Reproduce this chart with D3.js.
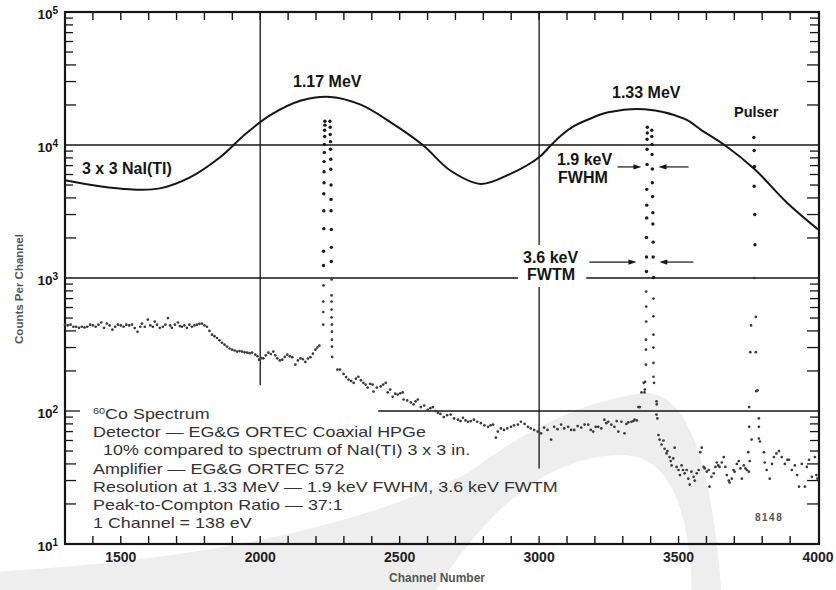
<!DOCTYPE html>
<html><head><meta charset="utf-8">
<script src="https://cdn.jsdelivr.net/npm/d3@7"></script>
<style>body{margin:0;background:#fff}svg{display:block}</style>
</head><body>
<svg id="c" width="836" height="590"></svg>
<script>
// ---- data (channel, counts per channel) ----
const naiCurve = [[1300,5425],[1424,4890],[1532,4640],[1640,4720],[1748,5710],[1856,8090],[1946,12050],[2036,16750],[2144,21500],[2252,23000],[2360,20100],[2468,14800],[2583,10000],[2683,6400],[2791,5100],[2899,6100],[3000,8100],[3043,10000],[3079,11800],[3126,13900],[3187,15900],[3248,17600],[3378,18600],[3522,15700],[3583,12900],[3665,10000],[3773,6570],[3888,3700],[4000,2320]];

const continuumLow = [[1300,446],[1310,440],[1320,446],[1330,430],[1340,430],[1350,422],[1360,430],[1370,425],[1380,430],[1390,446],[1400,440],[1410,430],[1420,446],[1430,463],[1440,422],[1450,454],[1460,440],[1470,409],[1480,430],[1490,446],[1500,440],[1510,430],[1520,446],[1530,440],[1540,446],[1550,420],[1560,394],[1570,430],[1576,454],[1586,430],[1597,487],[1606,440],[1615,430],[1622,470],[1630,446],[1640,422],[1651,430],[1660,446],[1669,500],[1677,440],[1683,422],[1694,446],[1705,463],[1712,435],[1719,430],[1728,440],[1737,422],[1746,446],[1755,430],[1764,440],[1773,446],[1782,452],[1791,454],[1800,440],[1809,430],
[1818,400],[1827,375],[1836,365],[1845,354],[1854,340],[1863,326],[1872,315],[1881,305],[1890,295],[1899,289],[1908,285],[1917,280],[1926,282],[1935,280],[1944,276],[1953,275],[1962,272],[1971,275],[1982,265],[1990,258],[1996,243],[2004,250],[2011,249],[2020,262],[2029,275],[2038,268],[2047,280],[2054,262],[2061,249],[2070,240],[2079,243],[2088,255],[2097,265],[2106,258],[2115,254],[2126,223],[2135,240],[2144,249],[2153,245],[2162,234],[2171,248],[2180,254],[2189,270],[2198,289],[2205,300],[2212,310]];

const peak117 = [[2232,15100],[2232,14100],[2231,12900],[2231,11600],[2230,10100],[2230,8800],[2229,7500],[2229,6300],[2229,5200],[2228,4300],[2228,3200],[2228,2350],[2227,1590],[2227,1240],[2227,880],[2226,665],[2226,555],[2226,446],
[2250,15100],[2251,13600],[2251,12000],[2252,10600],[2252,9290],[2253,7810],[2253,6570],[2254,5000],[2254,3900],[2254,3200],[2255,2320],[2255,1700],[2255,1330],[2256,975],[2256,740],[2256,665],[2256,579],[2256,505],[2257,446],[2257,395],[2257,344],[2257,305],[2258,255]];

const continuumMid = [[2277,205],[2286,205],[2299,190],[2308,180],[2317,172],[2326,168],[2335,163],[2343,175],[2352,181],[2361,170],[2370,163],[2378,158],[2385,150],[2394,160],[2403,158],[2406,140],[2418,150],[2432,153],[2441,158],[2450,163],[2457,138],[2466,145],[2475,128],[2484,135],[2493,133],[2502,136],[2511,138],[2514,122],[2527,120],[2540,116],[2550,112],[2557,118],[2565,122],[2576,107],[2588,110],[2601,102],[2610,105],[2619,107],[2628,100],[2637,97],[2646,95],[2658,90],[2670,93],[2683,94],[2695,88],[2709,86],[2718,84],[2727,89],[2736,85],[2745,83],[2755,84],[2766,86],[2778,83],[2791,81],[2804,78],[2817,76],[2826,78],[2835,79],[2845,63],[2852,70],[2863,74],[2874,72],[2886,74],[2899,76],[2910,78],[2924,79],[2935,83],[2948,80],[2960,76],[2970,74],[2982,72],[2995,70],[3007,68],[3018,75],[3030,72],[3043,61],[3054,76],[3066,73],[3079,79],[3090,74],[3104,76],[3115,72],[3126,72],[3138,77],[3151,75],[3163,79],[3176,79],[3185,72],[3194,70],[3203,76],[3212,76],[3223,74],[3234,86],[3241,81],[3248,83],[3259,79],[3270,76],[3278,84],[3284,70],[3295,83],[3306,68],[3313,80],[3320,82],[3331,83],[3338,84],[3342,86],[3350,85],[3356,107],[3361,107],[3367,138],[3375,163]];

const peak133 = [[3388,13600],[3388,12300],[3387,11050],[3387,9290],[3387,7150],[3386,4640],[3386,3530],[3386,2830],[3385,2020],[3385,1440],[3385,1120],[3384,790],[3384,610],[3384,470],[3383,344],[3383,289],[3383,223],[3380,166],[3379,145],[3378,138],
[3404,12900],[3404,11600],[3405,10100],[3405,8500],[3406,6600],[3406,5200],[3407,4100],[3408,3100],[3408,2550],[3409,1860],[3409,1440],[3410,1010],[3410,700],[3410,515],[3410,375],[3410,300],[3410,230],[3410,181],[3412,163],[3421,118],[3422,112],[3421,94],[3424,88]];

const continuumHigh = [[3428,66],[3432,61],[3439,56],[3446,60],[3450,52],[3457,48],[3460,50],[3468,45],[3472,42],[3475,39],[3481,44],[3486,53],[3493,38],[3500,36],[3505,33],[3511,39],[3516,36],[3522,34],[3529,36],[3535,31],[3540,28],[3546,35],[3554,32],[3558,30],[3565,34],[3572,36],[3578,49],[3583,53],[3590,38],[3594,37],[3601,35],[3608,36],[3611,27],[3618,32],[3626,34],[3632,38],[3637,41],[3642,39],[3647,38],[3655,41],[3662,45],[3668,38],[3673,33],[3680,30],[3683,29],[3691,31],[3697,36],[3701,35],[3709,40],[3716,42],[3722,37],[3727,31],[3734,39],[3740,37],[3745,36],
[3806,49],[3809,41],[3816,36],[3827,31],[3835,40],[3842,45],[3851,48],[3860,50],[3870,45],[3881,40],[3890,43],[3896,43],[3906,36],[3917,39],[3925,33],[3932,27],[3942,40],[3953,27],[3960,38],[3968,43],[3978,32],[3989,45],[3994,33],[3998,31]];

const pulser = [[3770,11400],[3771,9100],[3772,6900],[3771,4900],[3773,3000],[3774,1780],[3772,1000],[3777,510],[3760,440],[3757,277],[3777,277],[3783,143],[3779,141],[3753,107],[3788,88],[3753,76],[3788,76],[3788,62],[3792,59],[3762,61],[3750,49],[3755,42],[3752,35]];

const xTickLabels = [1500, 2000, 2500, 3000, 3500, 4000];
const yDecades = [10, 100, 1000, 10000, 100000];
const specLines = ["Co Spectrum", "Detector \u2014 EG&G ORTEC Coaxial HPGe", "10% compared to spectrum of NaI(TI) 3 x 3 in.", "Amplifier \u2014 EG&G ORTEC 572", "Resolution at 1.33 MeV \u2014 1.9 keV FWHM, 3.6 keV FWTM", "Peak-to-Compton Ratio \u2014 37:1", "1 Channel = 138 eV"];
// FWHM / FWTM markers: level (counts), arrows [tail, tip] in channels
const fwhm = {level: 6840, arrows: [[3281, 3367], [3536, 3428]]};
const fwtm = {level: 1318, arrows: [[3180, 3349], [3553, 3431]]};

// ---- drawing ----
const svg = d3.select('#c');
const x = d3.scaleLinear().domain([1300, 4000]).range([65, 818]);
const y = d3.scaleLog().domain([10, 1e5]).range([544, 12]);
const FONT = "'Liberation Sans', Arial, Helvetica, sans-serif";
const ink = '#151515';

// watermark swoosh
svg.append('path')
  .attr('d', 'M -10,572 Q 300,556 470,472 Q 560,403 645,393 Q 708,392 722,600 L 692,600 Q 690,458 625,455 Q 520,452 430,600 L -10,600 Z')
  .attr('fill', '#eeeeee');

const g = svg.append('g');
function seg(x1, y1, x2, y2, w) {
  g.append('line').attr('x1', x1).attr('y1', y1).attr('x2', x2).attr('y2', y2)
    .attr('stroke', ink).attr('stroke-width', w || 1.3);
}
// grid lines
seg(x(1300), y(1e4), x(4000), y(1e4));
seg(x(1300), y(1e3), x(2924), y(1e3));
seg(x(3169), y(1e3), x(4000), y(1e3));
seg(x(2423), y(1e2), x(4000), y(1e2));
seg(x(2000), y(1e5), x(2000), y(157));
seg(x(3000), y(1e5), x(3000), y(1770));
seg(x(3000), y(855), x(3000), y(37));

// frame
g.append('rect').attr('x', x(1300)).attr('y', y(1e5)).attr('width', x(4000) - x(1300) + 1).attr('height', y(10) - y(1e5))
  .attr('fill', 'none').attr('stroke', ink).attr('stroke-width', 2.2);

// x ticks (every 100 channels) top and bottom
d3.range(1400, 4000, 100).forEach(c => {
  seg(x(c), y(10), x(c), y(10) - 8, 1.4);
  seg(x(c), y(1e5), x(c), y(1e5) + 8, 1.4);
});
// y minor ticks, both sides
[10, 100, 1000, 10000].forEach(d => {
  for (let k = 2; k <= 9; k++) {
    const v = d * k, len = k <= 4 ? 11 : 8;
    seg(x(1300), y(v), x(1300) + len, y(v), 1.3);
    seg(x(4000), y(v), x(4000) - len, y(v), 1.3);
  }
});
seg(x(1300), y(100), x(1300) + 15, y(100), 1.3);

// y labels
yDecades.forEach((d, i) => {
  const t = svg.append('text').attr('x', 58).attr('y', y(d) + 7).attr('text-anchor', 'end')
    .attr('font-family', FONT).attr('font-weight', 'bold').attr('font-size', 13.5).attr('fill', ink);
  t.append('tspan').text('10');
  t.append('tspan').attr('font-size', 10).attr('dy', -5).text(String(Math.round(Math.log10(d))));
});
// x labels
xTickLabels.forEach(v => {
  svg.append('text').attr('x', x(v)).attr('y', 562).attr('text-anchor', 'middle')
    .attr('font-family', FONT).attr('font-weight', 'bold').attr('font-size', 14).attr('fill', '#222').text(v);
});
svg.append('text').attr('x', 437).attr('y', 582).attr('text-anchor', 'middle')
  .attr('font-family', FONT).attr('font-weight', 'bold').attr('font-size', 12).attr('fill', '#555').text('Channel Number');
svg.append('text').attr('transform', 'translate(23,289) rotate(-90)').attr('text-anchor', 'middle')
  .attr('font-family', FONT).attr('font-weight', 'bold').attr('font-size', 11.5).attr('fill', '#555').text('Counts Per Channel');

// NaI curve
const line = d3.line().x(d => x(d[0])).y(d => y(d[1])).curve(d3.curveCatmullRom.alpha(0.5));
svg.append('path').attr('d', line(naiCurve)).attr('fill', 'none').attr('stroke', ink).attr('stroke-width', 2);

// HPGe spectrum dots
const allPts = [].concat(continuumLow, peak117, continuumMid, peak133, continuumHigh, pulser);
svg.append('g').selectAll('circle').data(allPts).join('circle')
  .attr('cx', d => x(d[0])).attr('cy', d => y(d[1]))
  .attr('r', d => d[1] > 1000 ? 1.7 : 1.35)
  .attr('fill', d => d[1] > 1000 ? '#1a1a1a' : '#3a3a3a');

// arrows
function arrow(c1, c2, lvl) {
  const x1 = x(c1), x2 = x(c2), yy = y(lvl), dir = Math.sign(x2 - x1);
  svg.append('line').attr('x1', x1).attr('y1', yy).attr('x2', x2 - dir * 6).attr('y2', yy)
    .attr('stroke', ink).attr('stroke-width', 1.2);
  svg.append('path').attr('d', `M${x2},${yy} L${x2 - dir * 8},${yy - 2.6} L${x2 - dir * 8},${yy + 2.6} Z`).attr('fill', ink);
}
fwhm.arrows.forEach(a => arrow(a[0], a[1], fwhm.level));
fwtm.arrows.forEach(a => arrow(a[0], a[1], fwtm.level));

// bold annotations
function label(tx, ty, s, size) {
  svg.append('text').attr('x', tx).attr('y', ty).attr('font-family', FONT).attr('font-weight', 'bold')
    .attr('font-size', size || 16).attr('fill', ink).text(s);
}
label(82, 174, '3 x 3 NaI(TI)');
label(293, 87, '1.17 MeV');
label(612, 98, '1.33 MeV');
label(734, 117, 'Pulser', 14.5);
label(557, 165, '1.9 keV');
label(558, 183, 'FWHM');
label(523, 263, '3.6 keV');
label(527, 280, 'FWTM');

// spec text block (wide Helvetica-like lettering)
const lh = 18.17;
specLines.forEach((s, i) => {
  const t = svg.append('text')
    .attr('transform', `translate(${i === 2 ? 103 : 93},${419 + i * lh}) scale(1.28,1)`)
    .attr('font-family', FONT).attr('font-size', 14).attr('fill', '#333');
  if (i === 0) {
    t.append('tspan').attr('font-size', 8.5).attr('dy', -5).text('60');
    t.append('tspan').attr('dy', 5).text(s);
  } else t.text(s);
});
svg.append('text').attr('x', 755).attr('y', 521).attr('font-family', FONT).attr('font-weight', 'bold')
  .attr('font-size', 10).attr('letter-spacing', 1.5).attr('fill', '#555').text('8148');
</script>
</body></html>
